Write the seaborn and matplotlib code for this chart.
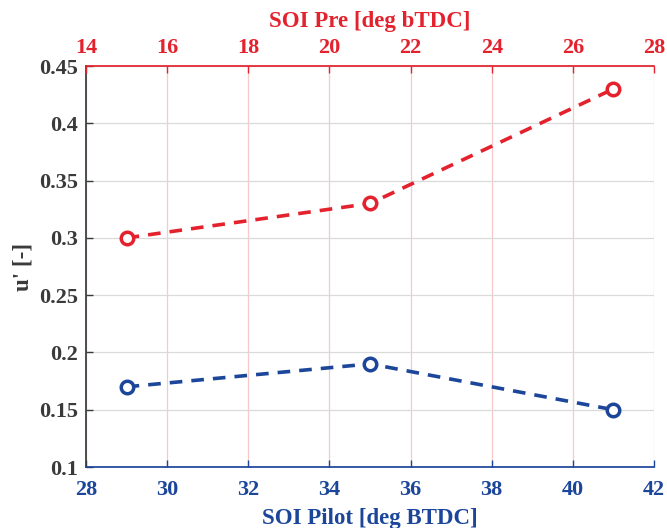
import matplotlib
matplotlib.use("Agg")
import matplotlib.pyplot as plt
import seaborn as sns
import pandas as pd

# Data
soi_pilot = [29, 35, 41]
u_pilot = [0.17, 0.19, 0.15]
soi_pre = [15, 21, 27]
u_pre = [0.30, 0.33, 0.43]

bottom_ticks = [28, 30, 32, 34, 36, 38, 40, 42]
top_ticks = [14, 16, 18, 20, 22, 24, 26, 28]
y_ticks = [0.1, 0.15, 0.2, 0.25, 0.3, 0.35, 0.4, 0.45]
y_ticklabels = ["0.1", "0.15", "0.2", "0.25", "0.3", "0.35", "0.4", "0.45"]

RED = "#E3222E"
BLUE = "#1B469A"
GRAY = "#3a3a3a"

sns.set_theme(style="white")
plt.rcParams["font.family"] = ["Liberation Serif", "DejaVu Serif"]
plt.rcParams["font.weight"] = "bold"

fig = plt.figure(figsize=(6.67, 5.28), dpi=100)
ax = fig.add_axes([0.129, 0.1155, 0.8515, 0.7595])

df_pilot = pd.DataFrame({"x": soi_pilot, "y": u_pilot})
df_pre = pd.DataFrame({"x": soi_pre, "y": u_pre})

sns.lineplot(data=df_pilot, x="x", y="y", ax=ax, color=BLUE, linewidth=2.6,
             linestyle=(0, (3.5, 2.5)), marker="o", markersize=9,
             markerfacecolor="white", markeredgecolor=BLUE, markeredgewidth=2.5)

ax.set_xlim(28, 42)
ax.set_ylim(0.1, 0.45)
ax.set_xticks(bottom_ticks)
ax.set_yticks(y_ticks)
ax.set_yticklabels(y_ticklabels)
ax.set_xlabel("SOI Pilot [deg BTDC]", color=BLUE, fontsize=16.5, fontweight="bold", labelpad=6)
ax.set_ylabel("u' [-]", color=GRAY, fontsize=16.5, fontweight="bold", labelpad=4)
ax.tick_params(axis="x", colors=BLUE, direction="in", length=5, width=1, labelsize=16, pad=9)
ax.tick_params(axis="y", colors=GRAY, direction="in", length=5, width=1, labelsize=16, pad=6, left=True)
for lab in ax.get_xticklabels() + ax.get_yticklabels():
    lab.set_fontweight("bold")
ax.xaxis.grid(True, color="#F7C9C9", linewidth=0.9)
ax.yaxis.grid(True, color="#DADADA", linewidth=0.9)
ax.set_axisbelow(True)
ax.spines["bottom"].set_color(BLUE)
ax.spines["left"].set_color(GRAY)
ax.spines["top"].set_visible(False)
ax.spines["right"].set_visible(False)

ax2 = ax.twiny()
sns.lineplot(data=df_pre, x="x", y="y", ax=ax2, color=RED, linewidth=2.6,
             linestyle=(0, (3.5, 2.5)), marker="o", markersize=9,
             markerfacecolor="white", markeredgecolor=RED, markeredgewidth=2.5)
ax2.set_xlim(14, 28)
ax2.set_ylim(0.1, 0.45)
ax2.set_xticks(top_ticks)
ax2.set_xlabel("SOI Pre [deg bTDC]", color=RED, fontsize=16.5, fontweight="bold", labelpad=8)
ax2.set_ylabel("")
ax2.tick_params(axis="x", colors=RED, direction="in", length=5, width=1, labelsize=16, pad=6, top=True)
for lab in ax2.get_xticklabels():
    lab.set_fontweight("bold")
ax2.grid(False)
ax2.spines["top"].set_color(RED)
for s in ["bottom", "left", "right"]:
    ax2.spines[s].set_visible(False)

fig.savefig("out.png", dpi=100)
